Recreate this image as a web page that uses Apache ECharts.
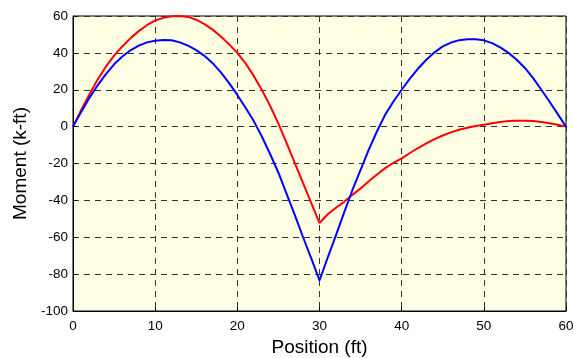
<!DOCTYPE html>
<html><head><meta charset="utf-8">
<script src="https://cdn.jsdelivr.net/npm/echarts@6/dist/echarts.min.js"></script>
<style>html,body{margin:0;padding:0;background:#fff}#c{width:574px;height:358px}</style>
</head><body><div id="c"></div>
<script>
var positions = [0,1,2,3,4,5,6,7,8,9,10,11,12,13,14,15,16,17,18,19,20,21,22,23,24,25,26,27,28,29,30,31,32,33,34,35,36,37,38,39,40,41,42,43,44,45,46,47,48,49,50,51,52,53,54,55,56,57,58,59,60];
var blueMoment = [0,8.0,15.6,22.4,28.5,33.8,38.0,41.4,43.9,45.7,46.6,47.0,46.8,45.7,43.9,41.5,38.4,34.4,29.4,23.6,17.2,10.2,3.0,-5.5,-15,-25,-36.5,-48,-60,-71.5,-83.4,
  -71,-59,-46.5,-34.5,-23.5,-12.5,-2.5,6.5,13.6,20,26,31.5,36.3,40.3,43.5,45.6,46.9,47.4,47.4,46.8,45.3,43,40,36.3,31.8,26.3,20,13.5,6.8,0];
var redMoment = [0,9,17.5,25.5,32.5,38.5,43.5,48,51.8,55,57.6,59,59.8,60,59.5,58,55.6,52.6,48.9,44.6,40,34.3,27.5,19.8,11.2,1.6,-8.9,-19.8,-30.6,-41.5,-52.3,
  -47.5,-44,-40.8,-37,-33.5,-29.6,-26,-22.5,-19.6,-17.2,-14.3,-11.6,-9.1,-6.8,-4.8,-3.1,-1.7,-0.6,0.3,1,1.8,2.5,3,3.2,3.2,3,2.5,1.8,1,0];
var xTicks = {min:0, max:60, step:10};
var yTicks = {min:-100, max:60, step:20};

function pairs(xs, ys){ return xs.map(function(x,i){ return [x, ys[i]]; }); }

var chart = echarts.init(document.getElementById('c'), null, {renderer:'canvas'});
var font = 'Liberation Sans, Arial, sans-serif';
chart.setOption({
  animation:false,
  backgroundColor:'#ffffff',
  grid:{left:73, top:16, right:8, bottom:47, outerBoundsMode:'none', containLabel:false, show:true, backgroundColor:'#FFFFE4', borderColor:'#000', borderWidth:1},
  xAxis:{type:'value', min:xTicks.min, max:xTicks.max, interval:xTicks.step,
    name:'Position (ft)', nameLocation:'middle', nameGap:27,
    nameTextStyle:{fontFamily:font, fontSize:19, color:'#000'},
    axisLine:{show:true, onZero:false, lineStyle:{color:'#000', width:1}},
    axisTick:{show:true, inside:true, length:4, lineStyle:{color:'#000'}},
    axisLabel:{fontFamily:font, fontSize:13.5, color:'#000', margin:8},
    splitLine:{show:true, lineStyle:{color:'#333', type:[6,5], width:1}}},
  yAxis:{type:'value', min:yTicks.min, max:yTicks.max, interval:yTicks.step,
    name:'Moment (k-ft)', nameLocation:'middle', nameGap:41,
    nameTextStyle:{fontFamily:font, fontSize:19, color:'#000'},
    axisLine:{show:true, onZero:false, lineStyle:{color:'#000', width:1}},
    axisTick:{show:true, inside:true, length:4, lineStyle:{color:'#000'}},
    axisLabel:{fontFamily:font, fontSize:13.5, color:'#000', margin:5},
    splitLine:{show:true, lineStyle:{color:'#333', type:[6,5], width:1}}},
  series:[
    {type:'line', data:pairs(positions, redMoment), showSymbol:false, smooth:false, lineStyle:{color:'#ff0000', width:2}, z:3},
    {type:'line', data:pairs(positions, blueMoment), showSymbol:false, smooth:false, lineStyle:{color:'#0000ff', width:2}, z:4}
  ]
});
</script></body></html>
